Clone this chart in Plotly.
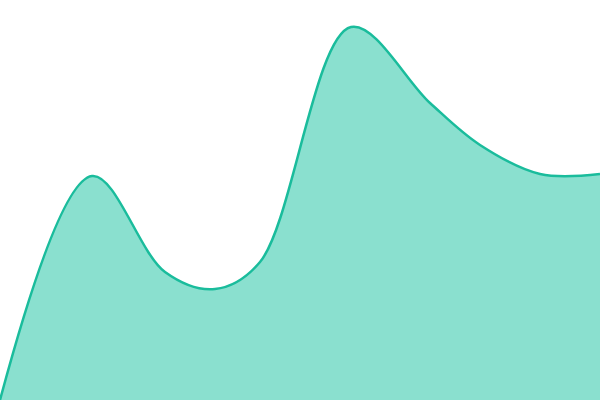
import plotly.graph_objects as go

# data
x_vals = [0, 92, 165, 215, 260, 351, 430, 480, 540, 600]
y_vals = [0, 224, 128, 111, 138, 373, 297, 255, 226, 226]

fig = go.Figure()
fig.add_trace(go.Scatter(
    x=x_vals,
    y=y_vals,
    mode='lines',
    fill='tozeroy',
    fillcolor='#8ae0cf',
    line=dict(color='#1abc9c', width=2.5, shape='spline', smoothing=1.0),
    hoverinfo='skip',
))

fig.update_layout(
    width=600, height=400,
    margin=dict(l=0, r=0, t=0, b=0),
    paper_bgcolor='white',
    plot_bgcolor='white',
    showlegend=False,
    xaxis=dict(visible=False, range=[0, 600]),
    yaxis=dict(visible=False, range=[0, 400]),
)

# drop the default body margin so the chart fills the window
fig.write_html("out.html", config={'displayModeBar': False},
               post_script="document.body.style.margin='0';")
